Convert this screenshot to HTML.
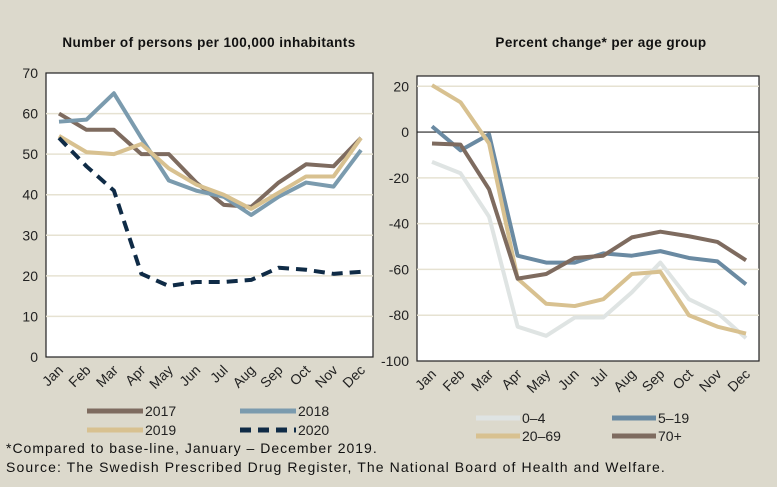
<!DOCTYPE html>
<html><head><meta charset="utf-8"><style>
body{margin:0;background:#dcd9cc;font-family:"Liberation Sans",sans-serif;}
svg{display:block}
</style></head><body>
<svg id="c" width="777" height="487" xmlns="http://www.w3.org/2000/svg">
<rect width="777" height="487" fill="#dcd9cc"/>
<text x="209" y="47" text-anchor="middle" font-size="13.5" letter-spacing="0.4" font-weight="bold" fill="#111">Number of persons per 100,000 inhabitants</text>
<text x="601" y="47" text-anchor="middle" font-size="13.5" letter-spacing="0.4" font-weight="bold" fill="#111">Percent change* per age group</text>
<text x="6" y="453" font-size="14" letter-spacing="1" fill="#111">*Compared to base-line, January – December 2019.</text>
<text x="6" y="472" font-size="14" letter-spacing="1.1" fill="#111">Source: The Swedish Prescribed Drug Register, The National Board of Health and Welfare.</text>
<g id="L"></g><g id="R"></g>
</svg>
<script>
const months=["Jan","Feb","Mar","Apr","May","Jun","Jul","Aug","Sep","Oct","Nov","Dec"];
const leftTicks=[0,10,20,30,40,50,60,70];
const s2017=[60,56,56,50,50,43,37.5,37,43,47.5,47,54];
const s2018=[58,58.5,65,54,43.5,41,39.5,35,39.5,43,42,51];
const s2019=[54.5,50.5,50,52.5,46.5,42.5,40,36.5,40.5,44.5,44.5,54];
const s2020=[54,47,41,20.5,17.5,18.5,18.5,19,22,21.5,20.5,21];
const rightTicks=[20,0,-20,-40,-60,-80,-100];
const rightTickLabels=["20","0","-20","-40","-60","-80","-100"];
const g04=[-13,-18,-37,-85,-89,-81,-81,-70,-57,-73,-79,-90];
const g519=[2.5,-8,-1,-54,-57,-57,-53,-54,-52,-55,-56.5,-66.5];
const g2069=[20.5,13,-5,-64,-75,-76,-73,-62,-61,-80,-85,-88];
const g70=[-5,-5.5,-25,-64,-62,-55,-54,-46,-43.5,-45.5,-48,-56];
const NS="http://www.w3.org/2000/svg";
function mk(p,t,a){const e=document.createElementNS(NS,t);for(const k in a)e.setAttribute(k,a[k]);p.appendChild(e);return e;}
function panel(g,box,x0,x1,ymin,ymax,ticks,labels,series,legend,zero){
  const xs=i=>x0+i*(x1-x0)/11, ys=v=>box.b-(v-ymin)*(box.b-box.t)/(ymax-ymin);
  const bg=mk(g,"rect",{x:box.l,y:box.t,width:box.r-box.l,height:box.b-box.t,fill:"#fff",stroke:"#222","stroke-width":1.2});
  
  
  ticks.forEach((v,i)=>{
    if(v!==ymin&&v!==ymax){const gl=mk(g,"line",{x1:box.l,x2:box.r,y1:ys(v),y2:ys(v),stroke:zero&&v===0?"#222":"#e6e2d2","stroke-width":zero&&v===0?1.2:1.5});
    
    }
    const t=mk(g,"text",{x:box.l-8,y:ys(v)+5,"text-anchor":"end","font-size":14,fill:"#222"});t.textContent=labels[i];
    
    
  });
  months.forEach((m,i)=>{const x=xs(i)+5,y=box.b+14;const t=mk(g,"text",{x:x,y:y,"text-anchor":"end","font-size":14,fill:"#222",transform:`rotate(-45 ${x} ${y})`});t.textContent=m;
    
    });
  series.forEach(s=>{const p=mk(g,"polyline",{points:s.d.map((v,i)=>xs(i)+","+ys(v)).join(" "),fill:"none",stroke:s.c,"stroke-width":4,"stroke-linejoin":"round","stroke-dasharray":s.dash||"none"});
    
    });
  legend.forEach(l=>{const s=series[l.i];const ln=mk(g,"line",{x1:l.x,x2:l.x+l.w,y1:l.y,y2:l.y,stroke:s.c,"stroke-width":5,"stroke-dasharray":s.dash||"none"});
    
    
    const t=mk(g,"text",{x:l.x+l.w+2,y:l.y+5,"font-size":14,fill:"#222"});t.textContent=s.label;
    
    });
}
panel(document.getElementById("L"),{l:46,r:373,t:73,b:357},59,361,0,70,leftTicks,leftTicks.map(String),
 [{d:s2017,c:"#7e6b5f",n:"2017",label:"2017"},{d:s2018,c:"#7b9bae",n:"2018",label:"2018"},{d:s2019,c:"#d8c190",n:"2019",label:"2019"},{d:s2020,c:"#0f2b46",dash:"11 7",n:"2020",label:"2020"}],
 [{i:0,x:87,y:411,w:56},{i:1,x:240,y:411,w:56},{i:2,x:87,y:430,w:56},{i:3,x:240,y:430,w:56}],false);
panel(document.getElementById("R"),{l:417,r:759,t:76,b:361},432,746,-100,24.5,rightTicks,rightTickLabels,
 [{d:g04,c:"#dfe4e3",n:"0-4",label:"0–4"},{d:g519,c:"#6a8aa2",n:"5-19",label:"5–19"},{d:g2069,c:"#d8c190",n:"20-69",label:"20–69"},{d:g70,c:"#7e6b5f",n:"70plus",label:"70+"}],
 [{i:0,x:476,y:418,w:44},{i:1,x:612,y:418,w:44},{i:2,x:476,y:436,w:44},{i:3,x:612,y:436,w:44}],true);
</script>
</body></html>
